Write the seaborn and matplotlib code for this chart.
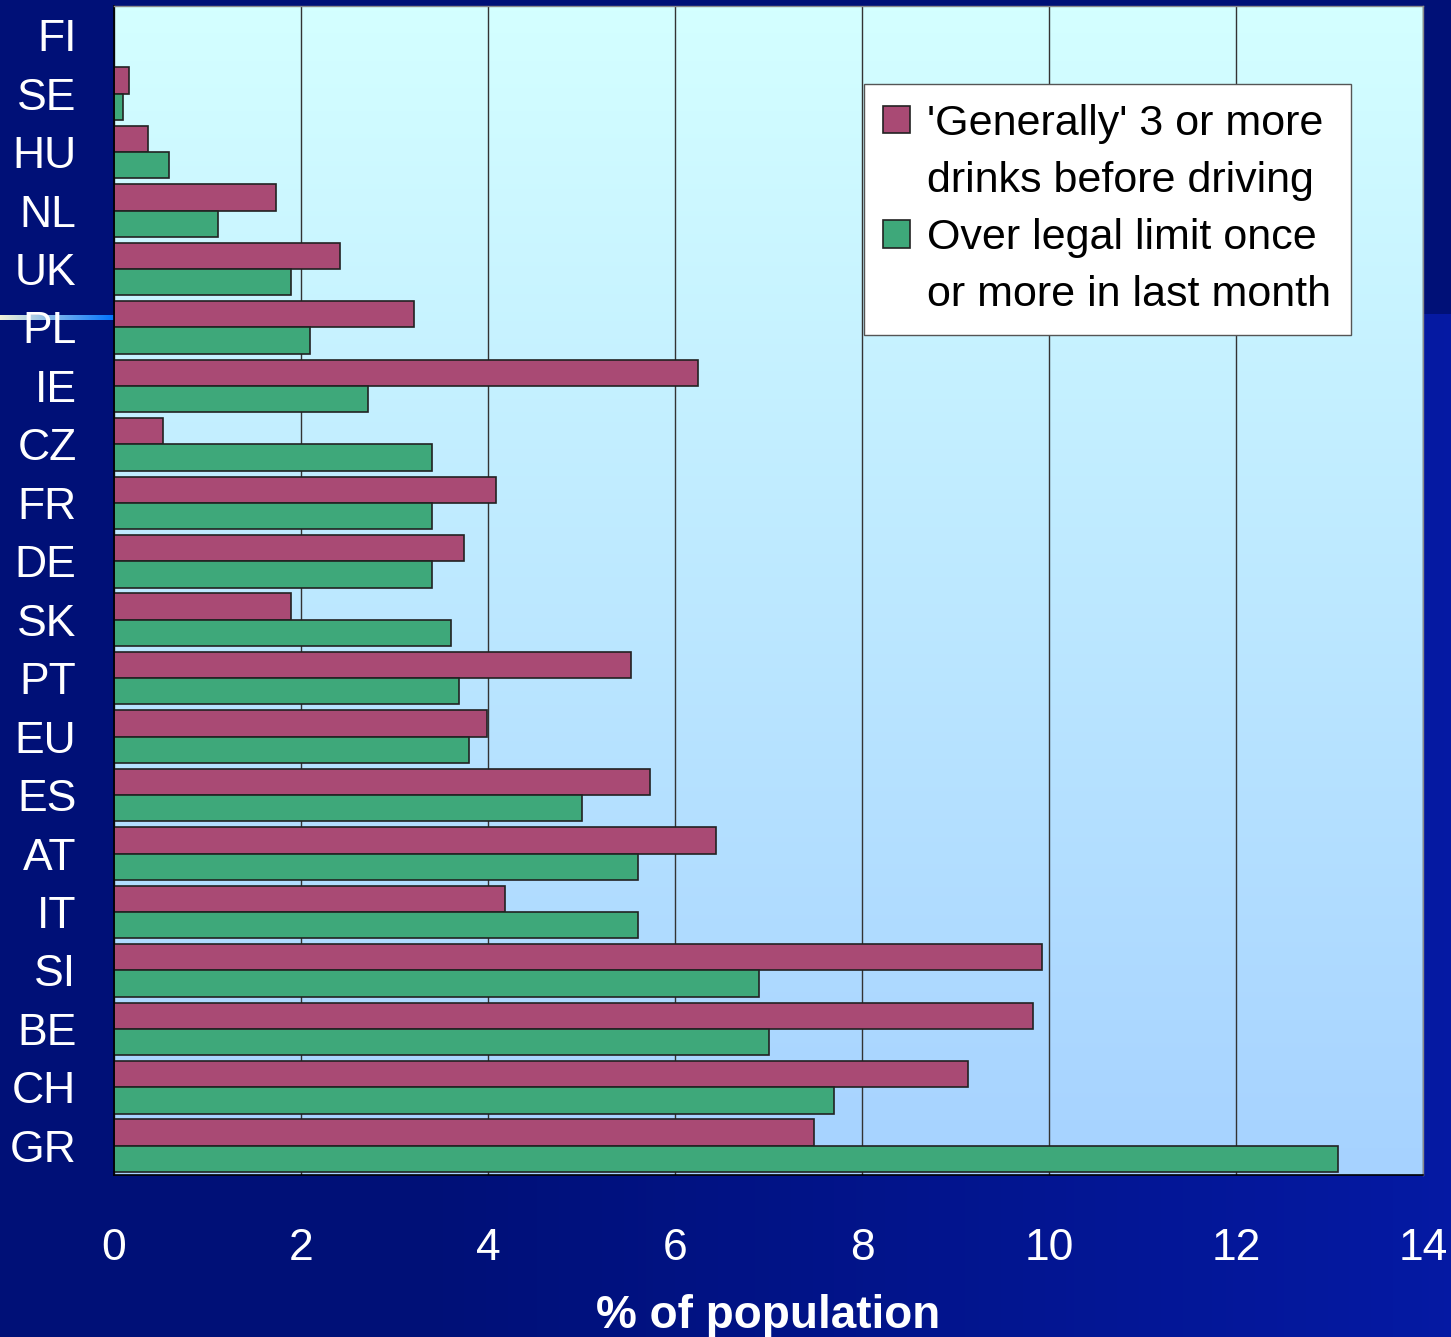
import numpy as np
import pandas as pd
import matplotlib
matplotlib.use('Agg')
import matplotlib.pyplot as plt
from matplotlib.colors import LinearSegmentedColormap
from matplotlib.patches import Patch
import seaborn as sns

# 数据
countries = ['FI', 'SE', 'HU', 'NL', 'UK', 'PL', 'IE', 'CZ', 'FR', 'DE',
             'SK', 'PT', 'EU', 'ES', 'AT', 'IT', 'SI', 'BE', 'CH', 'GR']
generally_3 = [0.0, 0.16, 0.36, 1.73, 2.42, 3.21, 6.25, 0.52, 4.09, 3.74,
               1.89, 5.53, 3.99, 5.73, 6.44, 4.18, 9.92, 9.83, 9.13, 7.49]
over_limit = [0.0, 0.10, 0.59, 1.11, 1.89, 2.10, 2.72, 3.40, 3.40, 3.40,
              3.60, 3.69, 3.80, 5.01, 5.60, 5.60, 6.90, 7.00, 7.70, 13.09]
series_names = ["'Generally' 3 or more drinks before driving",
                "Over legal limit once or more in last month"]
legend_lines = [["'Generally' 3 or more", "drinks before driving"],
                ["Over legal limit once", "or more in last month"]]
x_ticks = [0, 2, 4, 6, 8, 10, 12, 14]

df = pd.DataFrame({
    'country': countries * 2,
    'value': generally_3 + over_limit,
    'series': [series_names[0]] * len(countries) + [series_names[1]] * len(countries),
})

pink = '#a94a74'
green = '#3ea87a'
navy = (0.0, 0.063, 0.47)
bright = (0.02, 0.10, 0.64)

sns.set_style('white')
plt.rcParams['font.family'] = ['Liberation Sans', 'DejaVu Sans']

fig = plt.figure(figsize=(14.51, 13.37), dpi=100)

# 幻灯片背景
bg = fig.add_axes([0, 0, 1, 1], zorder=-1)
h, w = 200, 200
img = np.zeros((h, w, 3))
t = np.clip((np.linspace(0, 1, w) - 0.3) / 0.7, 0, 1)
for c in range(3):
    img[:, :, c] = navy[c] + (bright[c] - navy[c]) * t[None, :]
top_rows = int(h * 320 / 1337)
img[:top_rows, :, :] = navy
bg.imshow(img, extent=[0, 1, 0, 1], aspect='auto', origin='upper')
# 左侧装饰线
deco = np.zeros((1, 100, 3))
for i, (r, g, b) in enumerate(zip(np.linspace(0.95, 0.0, 100), np.linspace(0.95, 0.45, 100), np.linspace(0.85, 1.0, 100))):
    deco[0, i] = (r, g, b)
y_line = 1 - 318 / 1337
bg.imshow(deco, extent=[0, 114 / 1451, y_line - 0.0015, y_line + 0.0015], aspect='auto')
bg.set_xlim(0, 1)
bg.set_ylim(0, 1)
bg.axis('off')

ax = fig.add_axes([114 / 1451, 1 - 1175 / 1337, (1423 - 114) / 1451, (1175 - 6) / 1337])

# 绘图区渐变
cmap = LinearSegmentedColormap.from_list('plotbg', ['#d4ffff', '#a6d2ff'])
grad = np.linspace(0, 1, 256)[:, None]
ax.imshow(grad, extent=[0, 14, len(countries) - 0.5, -0.5], aspect='auto', cmap=cmap, zorder=0)

sns.barplot(data=df, y='country', x='value', hue='series', orient='h',
            palette=[pink, green], saturation=1, width=0.9, edgecolor='#222222',
            linewidth=1.2, legend=False, ax=ax, zorder=2)

ax.set_xlim(0, 14)
ax.set_ylim(len(countries) - 0.5, -0.5)
ax.set_xticks(x_ticks)
ax.set_xticklabels([str(v) for v in x_ticks], fontsize=32, color='white')
ax.set_yticks(range(len(countries)))
ax.set_yticklabels(countries, fontsize=32, color='white')
ax.set_yticks(np.arange(-0.5, len(countries), 1), minor=True)
ax.tick_params(axis='y', which='major', length=0, pad=27)
ax.tick_params(axis='y', which='minor', length=12, width=1.2, color='black', direction='out')
ax.tick_params(axis='x', which='major', length=11, width=1.2, color='black', direction='out', pad=27)
ax.set_xlabel('% of population', fontsize=33, fontweight='bold', color='white', labelpad=18)
ax.set_ylabel('')

ax.set_axisbelow(True)
ax.grid(axis='x', color='#333333', linewidth=1)
ax.grid(axis='y', visible=False)
for side in ['left', 'bottom']:
    ax.spines[side].set_color('black')
    ax.spines[side].set_linewidth(1.2)
for side in ['top', 'right']:
    ax.spines[side].set_color('#8a8a8a')
    ax.spines[side].set_linewidth(1)

# 图例：色块对齐每项的第一行
blank = Patch(facecolor='none', edgecolor='none')
handles = [Patch(facecolor=pink, edgecolor='#222222', linewidth=1.2), blank,
           Patch(facecolor=green, edgecolor='#222222', linewidth=1.2), blank]
labels = legend_lines[0] + legend_lines[1]
leg = ax.legend(handles, labels, loc='upper left', bbox_to_anchor=(0.573, 0.933),
                fontsize=31, frameon=True, fancybox=False, edgecolor='#555555',
                framealpha=1, handlelength=0.62, handleheight=0.62, handletextpad=0.4,
                borderpad=0.45, labelspacing=0.4, borderaxespad=0)
leg.get_frame().set_linewidth(1)
for txt in leg.get_texts():
    txt.set_color('black')

fig.savefig('out.png', dpi=100)
